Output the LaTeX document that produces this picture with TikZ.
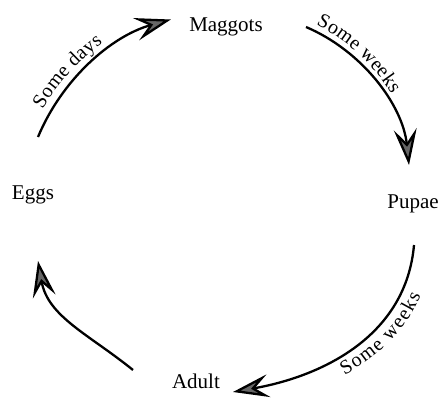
\documentclass[tikz,border=0pt]{standalone}
\usepackage{fontspec}
\setmainfont{Liberation Serif}
\usetikzlibrary{arrows.meta,decorations.text}
\newcommand{\lblsize}{\fontsize{21}{25}\selectfont}
\newcommand{\pathlblsize}{\fontsize{20}{24}\selectfont}
\begin{document}
\begin{tikzpicture}[x=1pt,y=1pt,
  stage/.style={inner sep=0pt, anchor=base, font=\lblsize},
  cyclearrow/.style={line width=2.3pt, -{Stealth[length=36pt,width=23pt,inset=14pt,fill=gray!80!black]}},
]
\useasboundingbox (0,0) rectangle (441,397);
\node[stage] (maggots) at (226,365) {Maggots};
\node[stage] (eggs) at (33,198) {Eggs};
\node[stage] (pupae) at (413,189) {Pupae};
\node[stage] (adult) at (196,9) {Adult};
\coordinate (a1s) at (38,260);
\coordinate (a2s) at (306,370);
\coordinate (a2e) at (409,232);
\coordinate (a3s) at (414,152);
\coordinate (a3e) at (233,5);
\coordinate (a4s) at (133,27);
\coordinate (a4e) at (38,136);
% Eggs -> Maggots
\draw[cyclearrow] (a1s) arc[start angle=157.4, end angle=105.6, radius=203];
\path[decorate, decoration={text along path, text={|\pathlblsize|Some days}, raise=8pt, text align={left indent=26pt}}]
  (a1s) arc[start angle=157.4, end angle=105.6, radius=203];
% Maggots -> Pupae
\draw[cyclearrow] (a2s) to[out=-23,in=96,looseness=0.9] (a2e);
\path[decorate, decoration={text along path, text={|\pathlblsize|Some weeks}, raise=6pt, text align={left indent=8pt}}]
  (a2s) to[out=-23,in=96,looseness=0.9] (a2e);
% Pupae -> Adult
\draw[cyclearrow] (a3s) to[out=-95,in=10] (a3e);
\path[decorate, decoration={text along path, text={|\pathlblsize|Some weeks}, raise=-19pt, text align={right, right indent=44pt}}]
  (a3e) to[out=10,in=-95] (a3s);
% Adult -> Eggs
\draw[cyclearrow] (a4s) to[out=141,in=-80] (a4e);
\end{tikzpicture}
\end{document}
